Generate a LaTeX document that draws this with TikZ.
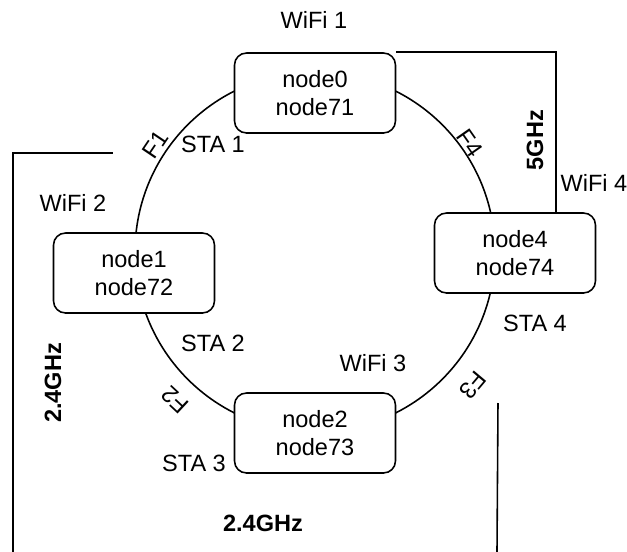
\documentclass[tikz,border=0pt]{standalone}
\usepackage{fontspec}
\setmainfont{Liberation Sans}
\usetikzlibrary{positioning}

\begin{document}
\begin{tikzpicture}[
  x=0.02cm, y={(0cm,-0.02cm)},
  font=\fontsize{13.4}{15.9}\selectfont,
  box/.style={rectangle, rounded corners=0.24cm, draw, line width=0.9pt, fill=white,
              minimum width=3.22cm, minimum height=1.6cm, align=center},
  lbl/.style={inner sep=0pt},
  band/.style={inner sep=0pt, font=\fontsize{13.4}{15.9}\selectfont\bfseries},
  ln/.style={line width=0.9pt}
]
\useasboundingbox (0,0) rectangle (627,552);
\node[circle, draw, line width=0.9pt, minimum size=7.2cm, inner sep=0pt] (ring) at (315,252) {};
\node[box] (node0) at (315,93)  {node0\\node71};
\node[box] (node1) at (134,273) {node1\\node72};
\node[box] (node2) at (315,433) {node2\\node73};
\node[box] (node4) at (515,253) {node4\\node74};
\node[lbl] (wifi1) at (314,20)  {WiFi 1};
\node[lbl] (wifi2) at (73,203)  {WiFi 2};
\node[lbl] (wifi3) at (373,363) {WiFi 3};
\node[lbl] (wifi4) at (594,183) {WiFi 4};
\node[lbl] (sta1)  at (213,144) {STA 1};
\node[lbl] (sta2)  at (213,343) {STA 2};
\node[lbl] (sta3)  at (194,463) {STA 3};
\node[lbl] (sta4)  at (535,323) {STA 4};
\node[lbl, rotate=56]   (f1) at (155,145) {F1};
\node[lbl, rotate=137]  (f2) at (175,400) {F2};
\node[lbl, rotate=-130] (f3) at (473,385) {F3};
\node[lbl, rotate=-55]  (f4) at (470,143) {F4};
\node[band, rotate=90] (ghz5)  at (535,140) {5GHz};
\node[band, rotate=90] (ghz24a) at (53,383) {2.4GHz};
\node[band] (ghz24b) at (263,523) {2.4GHz};
\coordinate (la) at (113,153);
\coordinate (lb) at (13,153);
\coordinate (lc) at (13,552);
\coordinate (ra) at (498,403);
\coordinate (rb) at (497,552);
\draw[ln] (node0.north east) -| ([xshift=0.82cm]node4.north);
\draw[ln] (la) -- (lb) -- (lc);
\draw[ln] (ra) -- (rb);
\end{tikzpicture}
\end{document}
